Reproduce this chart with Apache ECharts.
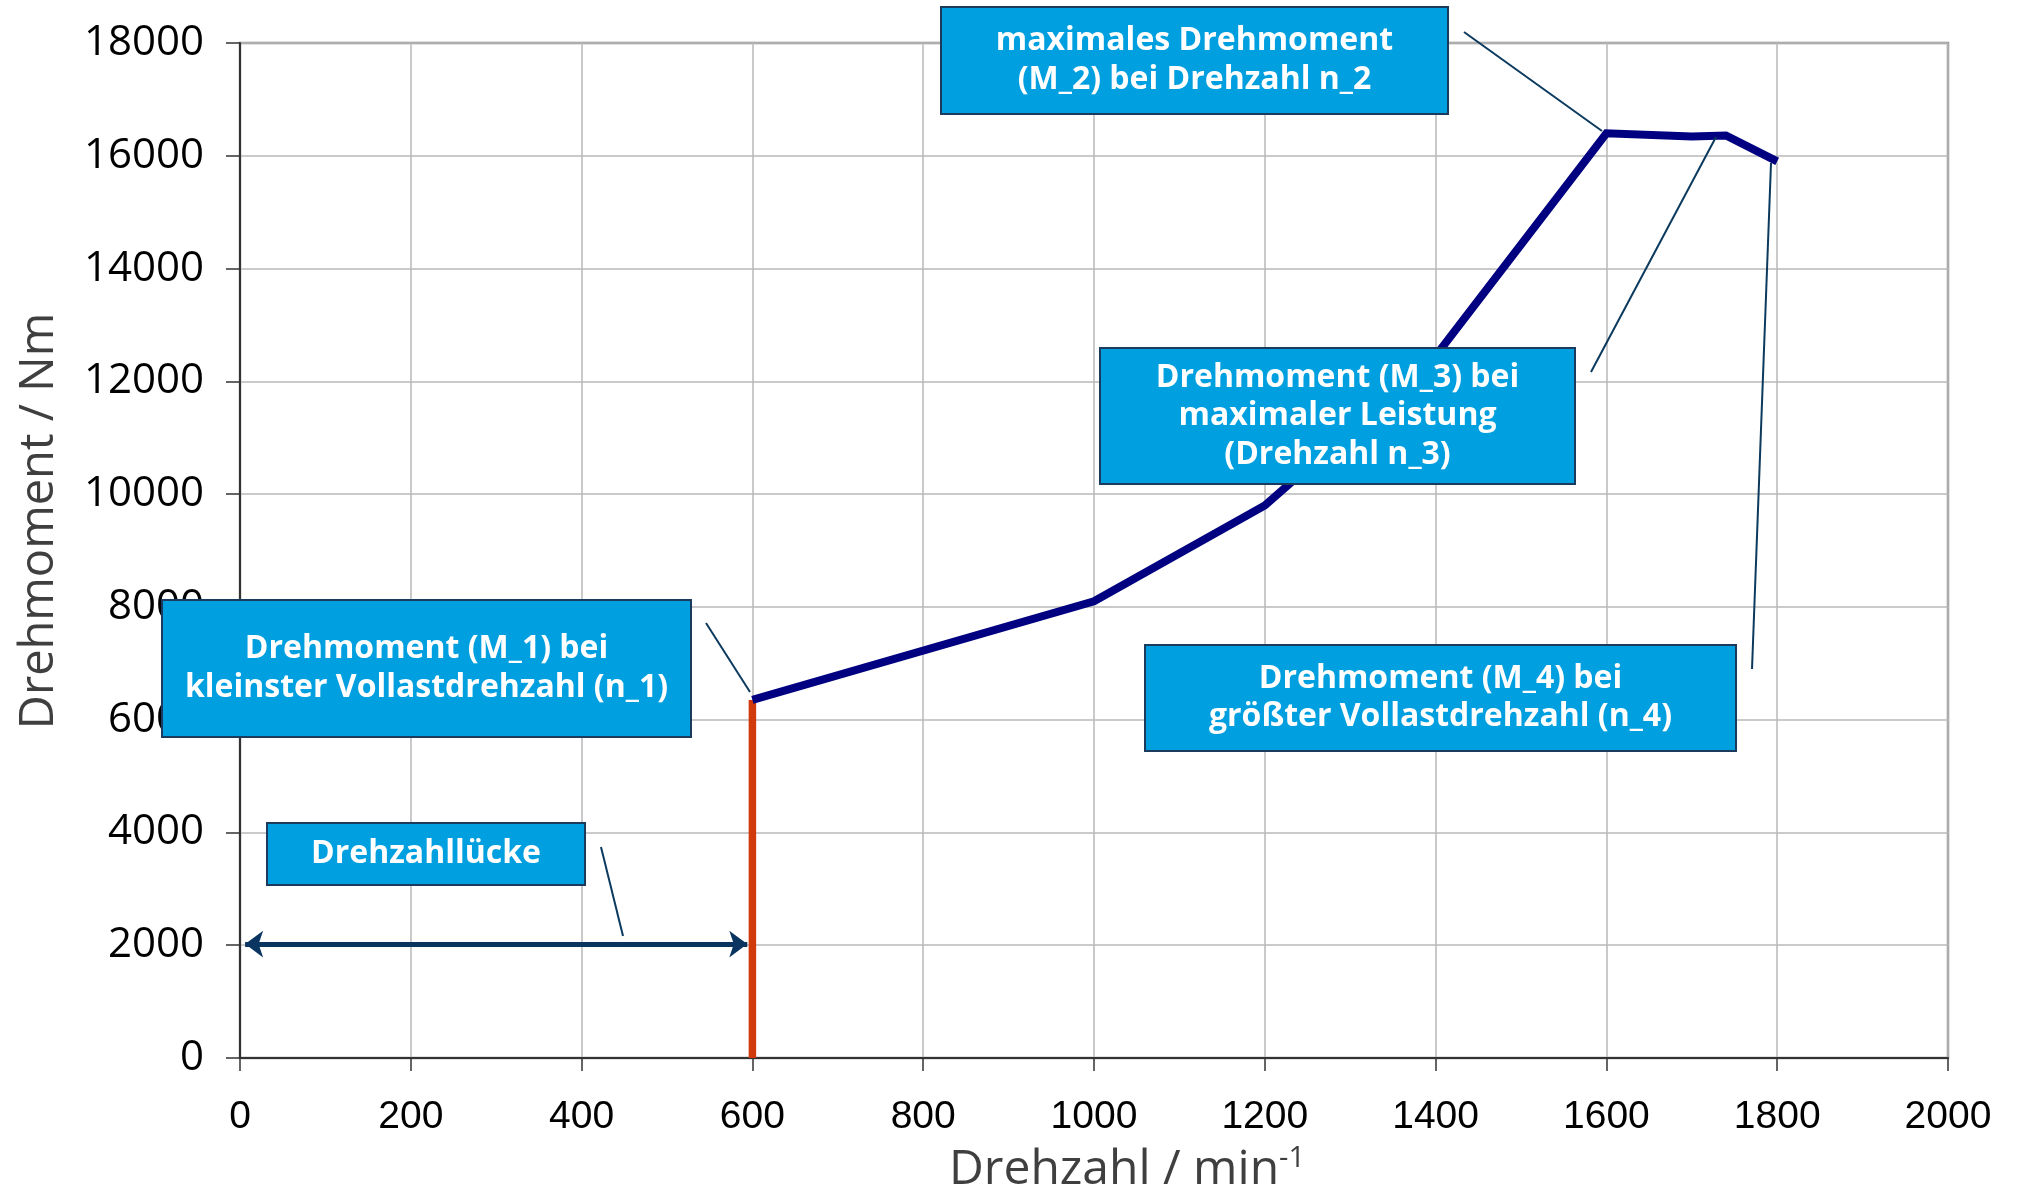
<!DOCTYPE html>
<html>
<head>
<meta charset="utf-8">
<script src="https://cdn.jsdelivr.net/npm/echarts@6/dist/echarts.min.js"></script>
<style>
html,body{margin:0;padding:0;background:#fff;}
#chart{width:2018px;height:1189px;}
</style>
</head>
<body>
<div id="chart"></div>
<script>
// ---- data ----
const torqueRpm = [600, 1000, 1200, 1400, 1600, 1700, 1740, 1800];
const torqueNm  = [6350, 8100, 9800, 12450, 16400, 16340, 16360, 15900];
const gapLineRpm = [600, 600];
const gapLineNm  = [0, 6350];
const gapArrowRpm = [6, 594];
const gapArrowNm = 2020;
const xTicks = {min: 0, max: 2000, interval: 200};
const yTicks = {min: 0, max: 18000, interval: 2000};
const xTitle = 'Drehzahl / min';
const xTitleSup = '-1';
const yTitle = 'Drehmoment / Nm';
const calloutTexts = [
  'maximales Drehmoment\n(M_2) bei Drehzahl n_2',
  'Drehmoment (M_3) bei\nmaximaler Leistung\n(Drehzahl n_3)',
  'Drehmoment (M_1) bei\nkleinster Vollastdrehzahl (n_1)',
  'Drehmoment (M_4) bei\ngrößter Vollastdrehzahl (n_4)',
  'Drehzahllücke'
];

const chart = echarts.init(document.getElementById('chart'), null, {renderer: 'canvas'});

const boxes = [
  {x: 941, y: 7, w: 507, h: 107},
  {x: 1100, y: 348, w: 475, h: 136},
  {x: 162, y: 600, w: 529, h: 137},
  {x: 1145, y: 645, w: 591, h: 106},
  {x: 267, y: 823, w: 318, h: 62}
];
const leaders = [
  [1464, 32, 1602, 131],
  [1591, 372, 1716, 137],
  [706, 623, 750, 692],
  [1752, 669, 1771, 163],
  [601, 847, 623, 936]
];

const graphics = [];
leaders.forEach(l => graphics.push({
  type: 'line', z: 100,
  shape: {x1: l[0], y1: l[1], x2: l[2], y2: l[3]},
  style: {stroke: '#0b3a5e', lineWidth: 2}
}));
boxes.forEach((b, i) => {
  graphics.push({
    type: 'rect', z: 101,
    shape: {x: b.x, y: b.y, width: b.w, height: b.h},
    style: {fill: '#009fdf', stroke: '#1c3a5e', lineWidth: 2}
  });
  graphics.push({
    type: 'text', z: 102,
    x: b.x + b.w / 2, y: b.y + b.h / 2,
    style: {
      text: calloutTexts[i],
      align: 'center', verticalAlign: 'middle',
      fontFamily: '"Open Sans"', fontWeight: 'bold', fontSize: 32,
      lineHeight: 38.5, fill: '#ffffff'
    }
  });
});
graphics.push({
  type: 'text', z: 50,
  x: 40, y: 521, rotation: Math.PI / 2,
  style: {
    text: yTitle, align: 'center', verticalAlign: 'middle',
    fontFamily: '"Open Sans"', fontSize: 47, fill: '#3f3f3f'
  }
});
graphics.push({
  type: 'text', z: 50,
  x: 1127, y: 1170,
  style: {
    text: '{a|' + xTitle + '}{s|' + xTitleSup + '}',
    align: 'center', verticalAlign: 'middle',
    rich: {
      a: {fontFamily: '"Open Sans"', fontSize: 48, fill: '#3f3f3f', color: '#3f3f3f'},
      s: {fontFamily: '"Open Sans"', fontSize: 29, fill: '#3f3f3f', color: '#3f3f3f', verticalAlign: 'top', padding: [0, 0, 22, 0]}
    }
  }
});

const option = {
  animation: false,
  backgroundColor: '#ffffff',
  grid: {
    left: 240, right: 70, top: 43, bottom: 131,
    show: true, borderColor: '#8c8c8c', borderWidth: 2.5, backgroundColor: 'transparent'
  },
  xAxis: {
    type: 'value', min: xTicks.min, max: xTicks.max, interval: xTicks.interval,
    axisLine: {show: true, onZero: false, lineStyle: {color: '#333333', width: 2}},
    axisTick: {show: true, length: 13, lineStyle: {color: '#333333', width: 1.5}},
    splitLine: {show: true, lineStyle: {color: '#b8b8b8', width: 1.5}},
    axisLabel: {fontFamily: '"Liberation Sans", Arial', fontSize: 39, color: '#000000', margin: 40,
      formatter: v => String(v)}
  },
  yAxis: {
    type: 'value', min: yTicks.min, max: yTicks.max, interval: yTicks.interval,
    axisLine: {show: true, onZero: false, lineStyle: {color: '#333333', width: 2}},
    axisTick: {show: true, length: 14, lineStyle: {color: '#333333', width: 1.5}},
    splitLine: {show: true, lineStyle: {color: '#b8b8b8', width: 1.5}},
    axisLabel: {fontFamily: '"Open Sans"', fontSize: 42, color: '#000000', margin: 36,
      formatter: v => String(v)}
  },
  series: [
    {
      type: 'line', name: 'gap', z: 3,
      data: gapLineRpm.map((x, i) => [x, gapLineNm[i]]),
      showSymbol: false, symbol: 'none',
      lineStyle: {color: '#d13a0c', width: 7.5, cap: 'butt'}
    },
    {
      type: 'line', name: 'torque', z: 4,
      data: torqueRpm.map((x, i) => [x, torqueNm[i]]),
      showSymbol: false, symbol: 'none',
      lineStyle: {color: '#000080', width: 8, join: 'miter'}
    },
    {
      type: 'line', name: 'arrow', z: 5, data: [],
      markLine: {
        silent: true, animation: false,
        symbol: ['arrow', 'arrow'], symbolSize: [20, 18],
        label: {show: false},
        lineStyle: {color: '#0b3561', width: 5, type: 'solid'},
        data: [[{coord: [gapArrowRpm[0], gapArrowNm]}, {coord: [gapArrowRpm[1], gapArrowNm]}]]
      }
    }
  ],
  graphic: graphics
};
chart.setOption(option);
</script>
</body>
</html>
